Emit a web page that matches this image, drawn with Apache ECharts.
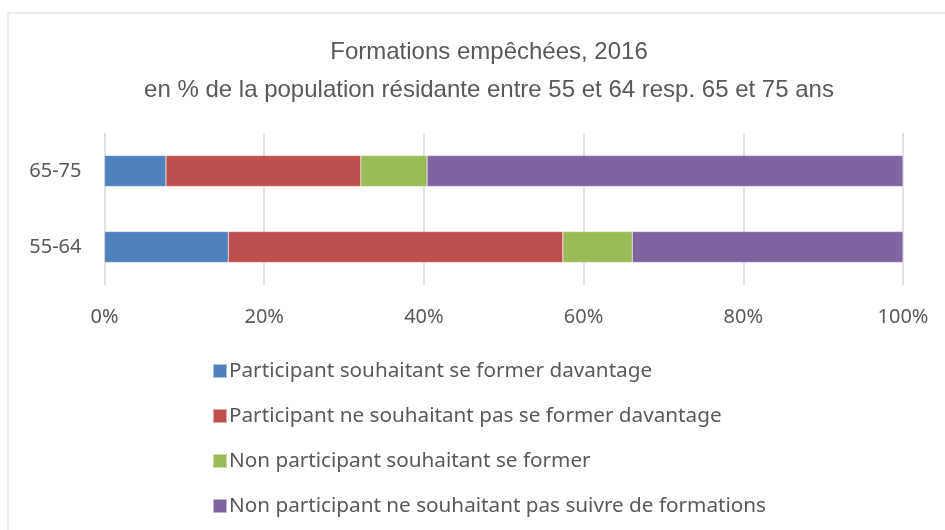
<!DOCTYPE html>
<html>
<head>
<meta charset="utf-8">
<style>
  html, body { margin: 0; padding: 0; background: #fff; }
  #chart { width: 945px; height: 530px; }
</style>
<script src="https://cdn.jsdelivr.net/npm/echarts@6/dist/echarts.min.js"></script>
</head>
<body>
<div id="chart"></div>
<script>
// catégories (de bas en haut)
var categories = ['55-64', '65-75'];
var seriesNames = [
  'Participant souhaitant se former davantage',
  'Participant ne souhaitant pas se former davantage',
  'Non participant souhaitant se former',
  'Non participant ne souhaitant pas suivre de formations'
];
var partSouhaitant = [15.5, 7.7];
var partNeSouhaitantPas = [41.9, 24.4];
var nonPartSouhaitant = [8.7, 8.3];
var nonPartNeSouhaitantPas = [33.9, 59.6];
var colors = ['#4f81bd', '#c0504d', '#9bbb59', '#8064a2'];

var myChart = echarts.init(document.getElementById('chart'));

var values = [partSouhaitant, partNeSouhaitantPas, nonPartSouhaitant, nonPartNeSouhaitantPas];
var series = values.map(function (d, i) {
  return {
    name: seriesNames[i],
    type: 'bar',
    stack: 'total',
    barWidth: 31,
    data: d,
    itemStyle: { color: colors[i], borderColor: 'rgba(255,255,255,0.5)', borderWidth: 0.5 }
  };
});

var option = {
  animation: false,
  backgroundColor: '#fff',
  textStyle: { fontFamily: 'Noto Sans' },
  graphic: [{
    type: 'rect',
    shape: { x: 8, y: 13, width: 945, height: 530 },
    style: { fill: 'none', stroke: '#d9d9d9', lineWidth: 1 },
    silent: true
  }],
  title: {
    text: 'Formations empêchées, 2016\nen % de la population résidante entre 55 et 64 resp. 65 et 75 ans',
    left: 484,
    textAlign: 'center',
    top: 28,
    textStyle: {
      fontFamily: 'Liberation Sans',
      fontWeight: 'normal',
      fontSize: 24,
      lineHeight: 38,
      color: '#595959'
    }
  },
  legend: {
    orient: 'vertical',
    left: 212,
    top: 360,
    padding: 0,
    itemWidth: 14,
    itemHeight: 14,
    itemGap: 23,
    icon: 'rect',
    textStyle: { fontSize: 20.7, color: '#595959', lineHeight: 22, padding: [0, 0, 0, -3] },
    data: seriesNames
  },
  grid: { left: 104.5, right: 42, top: 133, height: 152, containLabel: false },
  xAxis: {
    type: 'value',
    min: 0,
    max: 100,
    interval: 20,
    axisLabel: { formatter: '{value}%', fontSize: 20, color: '#595959', margin: 22 },
    axisLine: { show: false },
    axisTick: { show: false },
    splitLine: { lineStyle: { color: '#d9d9d9', width: 1.5 } }
  },
  yAxis: {
    type: 'category',
    data: categories,
    axisLabel: { fontSize: 20, color: '#595959', margin: 23 },
    axisLine: { show: false },
    axisTick: { show: false }
  },
  series: series
};

myChart.setOption(option);
</script>
</body>
</html>
